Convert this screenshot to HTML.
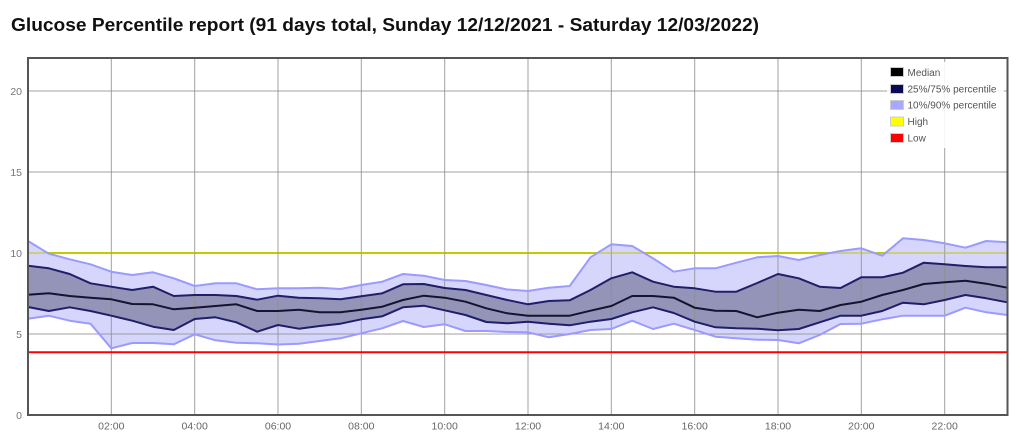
<!DOCTYPE html>
<html>
<head>
<meta charset="utf-8">
<style>
  html,body{margin:0;padding:0;background:#fff;}
  body{width:1024px;height:439px;overflow:hidden;}
  svg{display:block;font-family:"Liberation Sans",sans-serif;}
</style>
</head>
<body>
<svg width="1024" height="439" viewBox="0 0 1024 439" xmlns="http://www.w3.org/2000/svg">
  <rect x="0" y="0" width="1024" height="439" fill="#fff"/>
  <text x="11" y="31" font-size="18.5" font-weight="bold" fill="#111" textLength="748" lengthAdjust="spacingAndGlyphs">Glucose Percentile report (91 days total, Sunday 12/12/2021 - Saturday 12/03/2022)</text>

  <!-- high / low lines -->
  <line x1="28" y1="253" x2="1007.5" y2="253" stroke="#c8c800" stroke-width="2"/>

  <!-- 10/90 band -->
  <polygon fill="#d3d3fd" fill-opacity="0.92" points="28,241 48.8,253.7 69.7,259.3 90.5,264.3 111.3,271.7 132.2,275 153,272.3 173.8,278.3 194.7,286 215.5,283.3 236.3,283.3 257.2,289.3 278,288.3 298.8,288.3 319.7,287.7 340.5,289 361.3,285 382.2,281.7 403,274 423.8,275.7 444.7,280 465.5,281 486.3,285 507.2,289.5 528,291 548.8,287.7 569.7,286 590.5,257.3 611.3,244.3 632.2,246 653,258.3 673.8,271.7 694.7,268.3 715.5,268.3 736.3,262.7 757.2,257.3 778,256 798.8,260 819.7,255 840.5,251 861.3,248.3 882.2,255.7 903,238.3 923.8,240 944.7,243.3 965.5,247.7 986.3,241 1007.2,242.3 1007.2,315 986.3,312.3 965.5,307.7 944.7,315.7 923.8,315.7 903,315.7 882.2,319.3 861.3,323.7 840.5,324 819.7,335 798.8,343.3 778,340 757.2,339.7 736.3,338.3 715.5,336.7 694.7,330 673.8,323.7 653,329 632.2,320.7 611.3,329 590.5,330 569.7,334 548.8,337.3 528,332.3 507.2,332 486.3,331 465.5,331 444.7,324.3 423.8,327 403,321 382.2,328.3 361.3,333.3 340.5,338.3 319.7,341 298.8,343.7 278,344.5 257.2,343.3 236.3,342.7 215.5,340.3 194.7,334.3 173.8,344.3 153,343 132.2,343 111.3,348.3 90.5,323.7 69.7,320.7 48.8,315.7 28,318.7"/>

  <!-- 25/75 band -->
  <polygon fill="#9494b8" points="28,265.7 48.8,268.3 69.7,274 90.5,283.3 111.3,286.7 132.2,290 153,286.7 173.8,296 194.7,295 215.5,295 236.3,296 257.2,299.7 278,295.7 298.8,297.7 319.7,298.3 340.5,299.3 361.3,296.3 382.2,293.3 403,284.3 423.8,284 444.7,288 465.5,290 486.3,295 507.2,300 528,304.3 548.8,301 569.7,300.3 590.5,290 611.3,278.3 632.2,272.3 653,281.7 673.8,286.7 694.7,288.3 715.5,291.7 736.3,291.7 757.2,283 778,274 798.8,278.3 819.7,286.7 840.5,288 861.3,277.3 882.2,277.3 903,272.7 923.8,262.7 944.7,264.3 965.5,266 986.3,267.3 1007.2,267.3 1007.2,302.3 986.3,298.3 965.5,295 944.7,300 923.8,304.3 903,302.7 882.2,311 861.3,315.7 840.5,315.7 819.7,322.3 798.8,329 778,330.3 757.2,328.7 736.3,328.3 715.5,327.3 694.7,321.7 673.8,313 653,307.3 632.2,312.3 611.3,319 590.5,321.7 569.7,325.3 548.8,323.7 528,321.7 507.2,323.3 486.3,322 465.5,315 444.7,310.3 423.8,305.7 403,307.3 382.2,316.3 361.3,319.3 340.5,323.7 319.7,326 298.8,328.7 278,325 257.2,331.7 236.3,322.3 215.5,317.3 194.7,319 173.8,330 153,326.7 132.2,320.7 111.3,315.7 90.5,311 69.7,307.3 48.8,311 28,307"/>

  <!-- grid -->
  <g stroke="#8f8f8f" stroke-width="1" stroke-opacity="0.85">
    <line x1="111.3" y1="58" x2="111.3" y2="415"/>
    <line x1="194.7" y1="58" x2="194.7" y2="415"/>
    <line x1="278" y1="58" x2="278" y2="415"/>
    <line x1="361.3" y1="58" x2="361.3" y2="415"/>
    <line x1="444.7" y1="58" x2="444.7" y2="415"/>
    <line x1="528" y1="58" x2="528" y2="415"/>
    <line x1="611.3" y1="58" x2="611.3" y2="415"/>
    <line x1="694.7" y1="58" x2="694.7" y2="415"/>
    <line x1="778" y1="58" x2="778" y2="415"/>
    <line x1="861.3" y1="58" x2="861.3" y2="415"/>
    <line x1="944.7" y1="58" x2="944.7" y2="415"/>
    <line x1="28" y1="334" x2="1007.5" y2="334"/>
    <line x1="28" y1="172" x2="1007.5" y2="172"/>
    <line x1="28" y1="91" x2="1007.5" y2="91"/>
  </g>
  <line x1="28" y1="253" x2="1007.5" y2="253" stroke="#c8c800" stroke-width="1.5" stroke-opacity="0.6"/>
  <line x1="28" y1="352.3" x2="1007.5" y2="352.3" stroke="#ff0000" stroke-width="2"/>

  <!-- series lines -->
  <g fill="none" stroke-linejoin="round" stroke-width="2">
    <polyline stroke="#9a9aff" points="28,241 48.8,253.7 69.7,259.3 90.5,264.3 111.3,271.7 132.2,275 153,272.3 173.8,278.3 194.7,286 215.5,283.3 236.3,283.3 257.2,289.3 278,288.3 298.8,288.3 319.7,287.7 340.5,289 361.3,285 382.2,281.7 403,274 423.8,275.7 444.7,280 465.5,281 486.3,285 507.2,289.5 528,291 548.8,287.7 569.7,286 590.5,257.3 611.3,244.3 632.2,246 653,258.3 673.8,271.7 694.7,268.3 715.5,268.3 736.3,262.7 757.2,257.3 778,256 798.8,260 819.7,255 840.5,251 861.3,248.3 882.2,255.7 903,238.3 923.8,240 944.7,243.3 965.5,247.7 986.3,241 1007.2,242.3"/>
    <polyline stroke="#9a9aff" points="28,318.7 48.8,315.7 69.7,320.7 90.5,323.7 111.3,348.3 132.2,343 153,343 173.8,344.3 194.7,334.3 215.5,340.3 236.3,342.7 257.2,343.3 278,344.5 298.8,343.7 319.7,341 340.5,338.3 361.3,333.3 382.2,328.3 403,321 423.8,327 444.7,324.3 465.5,331 486.3,331 507.2,332 528,332.3 548.8,337.3 569.7,334 590.5,330 611.3,329 632.2,320.7 653,329 673.8,323.7 694.7,330 715.5,336.7 736.3,338.3 757.2,339.7 778,340 798.8,343.3 819.7,335 840.5,324 861.3,323.7 882.2,319.3 903,315.7 923.8,315.7 944.7,315.7 965.5,307.7 986.3,312.3 1007.2,315"/>
    <polyline stroke="#1e1e6a" points="28,265.7 48.8,268.3 69.7,274 90.5,283.3 111.3,286.7 132.2,290 153,286.7 173.8,296 194.7,295 215.5,295 236.3,296 257.2,299.7 278,295.7 298.8,297.7 319.7,298.3 340.5,299.3 361.3,296.3 382.2,293.3 403,284.3 423.8,284 444.7,288 465.5,290 486.3,295 507.2,300 528,304.3 548.8,301 569.7,300.3 590.5,290 611.3,278.3 632.2,272.3 653,281.7 673.8,286.7 694.7,288.3 715.5,291.7 736.3,291.7 757.2,283 778,274 798.8,278.3 819.7,286.7 840.5,288 861.3,277.3 882.2,277.3 903,272.7 923.8,262.7 944.7,264.3 965.5,266 986.3,267.3 1007.2,267.3"/>
    <polyline stroke="#1e1e6a" points="28,307 48.8,311 69.7,307.3 90.5,311 111.3,315.7 132.2,320.7 153,326.7 173.8,330 194.7,319 215.5,317.3 236.3,322.3 257.2,331.7 278,325 298.8,328.7 319.7,326 340.5,323.7 361.3,319.3 382.2,316.3 403,307.3 423.8,305.7 444.7,310.3 465.5,315 486.3,322 507.2,323.3 528,321.7 548.8,323.7 569.7,325.3 590.5,321.7 611.3,319 632.2,312.3 653,307.3 673.8,313 694.7,321.7 715.5,327.3 736.3,328.3 757.2,328.7 778,330.3 798.8,329 819.7,322.3 840.5,315.7 861.3,315.7 882.2,311 903,302.7 923.8,304.3 944.7,300 965.5,295 986.3,298.3 1007.2,302.3"/>
    <polyline stroke="#141430" points="28,294.7 48.8,293.3 69.7,296 90.5,297.7 111.3,299.3 132.2,304 153,304.3 173.8,309.3 194.7,307.7 215.5,306 236.3,304.3 257.2,311 278,311 298.8,309.7 319.7,312.3 340.5,312.3 361.3,309.7 382.2,306.7 403,300 423.8,295.7 444.7,297.7 465.5,301.7 486.3,308.3 507.2,313.3 528,315.7 548.8,315.7 569.7,315.7 590.5,310.7 611.3,306 632.2,296 653,296 673.8,297.7 694.7,307.7 715.5,310.7 736.3,311 757.2,317.3 778,312.7 798.8,309.7 819.7,311 840.5,305 861.3,301.7 882.2,295 903,290 923.8,284 944.7,282.3 965.5,280.7 986.3,283.7 1007.2,287.7"/>
  </g>

  <!-- plot border -->
  <rect x="28" y="58" width="979.5" height="357" fill="none" stroke="#555" stroke-width="2"/>

  <!-- y labels -->
  <g font-size="10.5" fill="#777" text-anchor="end">
    <text x="22" y="95">20</text>
    <text x="22" y="176">15</text>
    <text x="22" y="257">10</text>
    <text x="22" y="338">5</text>
    <text x="22" y="419">0</text>
  </g>
  <!-- x labels -->
  <g font-size="10.5" fill="#666" text-anchor="middle">
    <text x="111.3" y="429.5">02:00</text>
    <text x="194.7" y="429.5">04:00</text>
    <text x="278" y="429.5">06:00</text>
    <text x="361.3" y="429.5">08:00</text>
    <text x="444.7" y="429.5">10:00</text>
    <text x="528" y="429.5">12:00</text>
    <text x="611.3" y="429.5">14:00</text>
    <text x="694.7" y="429.5">16:00</text>
    <text x="778" y="429.5">18:00</text>
    <text x="861.3" y="429.5">20:00</text>
    <text x="944.7" y="429.5">22:00</text>
  </g>

  <!-- legend -->
  <rect x="887" y="62" width="117" height="86" fill="#fff" fill-opacity="0.88"/>
  <g stroke="#cccccc" stroke-width="1">
    <rect x="890.5" y="67.5" width="13" height="9" fill="#000"/>
    <rect x="890.5" y="84.5" width="13" height="9" fill="#0a0a55"/>
    <rect x="890.5" y="100.5" width="13" height="9" fill="#a8a8ff"/>
    <rect x="890.5" y="117" width="13" height="9" fill="#ffff00"/>
    <rect x="890.5" y="133.5" width="13" height="9" fill="#ff0000"/>
  </g>
  <g font-size="10" fill="#555">
    <text x="907.5" y="75.8">Median</text>
    <text x="907.5" y="92.5">25%/75% percentile</text>
    <text x="907.5" y="108.5">10%/90% percentile</text>
    <text x="907.5" y="125">High</text>
    <text x="907.5" y="141.5">Low</text>
  </g>
</svg>
</body>
</html>
